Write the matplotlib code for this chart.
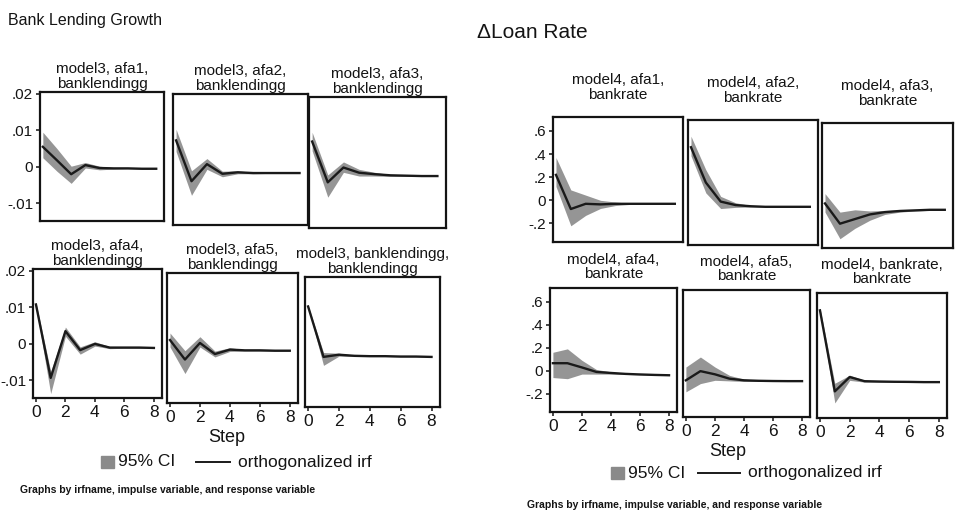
import matplotlib
matplotlib.use("Agg")
import matplotlib.pyplot as plt
from matplotlib.patches import Rectangle
from matplotlib.lines import Line2D

plt.rcParams['font.family'] = ['Liberation Sans', 'DejaVu Sans']

W, H = 973, 522
steps = list(range(9))

# --- model3: response of bank lending growth ---
bl_titles = ["model3, afa1,\nbanklendingg", "model3, afa2,\nbanklendingg",
             "model3, afa3,\nbanklendingg", "model3, afa4,\nbanklendingg",
             "model3, afa5,\nbanklendingg", "model3, banklendingg,\nbanklendingg"]
bl_afa1 = [0.0055, 0.0018, -0.0020, 0.0005, -0.0003, -0.0004, -0.0004, -0.0005, -0.0005]
bl_afa1_lo = [0.0025, -0.0012, -0.0045, -0.0003, -0.0008, -0.0006, -0.0005, -0.0006, -0.0006]
bl_afa1_hi = [0.0095, 0.0050, 0.0002, 0.0012, 0.0002, -0.0002, -0.0003, -0.0004, -0.0004]
bl_afa2 = [0.0080, -0.0030, 0.0016, -0.0010, -0.0006, -0.0008, -0.0008, -0.0008, -0.0008]
bl_afa2_lo = [0.0050, -0.0068, 0.0002, -0.0018, -0.0010, -0.0010, -0.0009, -0.0009, -0.0009]
bl_afa2_hi = [0.0110, -0.0002, 0.0031, -0.0003, -0.0002, -0.0006, -0.0007, -0.0007, -0.0007]
bl_afa3 = [0.0085, -0.0025, 0.0015, 0.0001, -0.0003, -0.0006, -0.0007, -0.0008, -0.0008]
bl_afa3_lo = [0.0060, -0.0065, 0.0002, -0.0008, -0.0008, -0.0009, -0.0009, -0.0009, -0.0009]
bl_afa3_hi = [0.0110, -0.0005, 0.0030, 0.0010, 0.0002, -0.0004, -0.0006, -0.0007, -0.0007]
bl_afa4 = [0.0108, -0.0093, 0.0035, -0.0017, 0.0000, -0.0010, -0.0010, -0.0010, -0.0011]
bl_afa4_lo = [0.0103, -0.0136, 0.0021, -0.0028, -0.0006, -0.0013, -0.0012, -0.0012, -0.0012]
bl_afa4_hi = [0.0114, -0.0075, 0.0046, -0.0008, 0.0006, -0.0007, -0.0008, -0.0009, -0.0010]
bl_afa5 = [0.0023, -0.0030, 0.0015, -0.0015, -0.0003, -0.0005, -0.0005, -0.0006, -0.0006]
bl_afa5_lo = [0.0004, -0.0068, 0.0004, -0.0023, -0.0008, -0.0007, -0.0007, -0.0007, -0.0007]
bl_afa5_hi = [0.0042, -0.0006, 0.0032, -0.0007, 0.0002, -0.0003, -0.0004, -0.0005, -0.0005]
bl_own = [0.0125, -0.0012, -0.0006, -0.0009, -0.0010, -0.0010, -0.0011, -0.0011, -0.0012]
bl_own_lo = [0.0122, -0.0035, -0.0010, -0.0011, -0.0011, -0.0011, -0.0012, -0.0012, -0.0013]
bl_own_hi = [0.0128, 0.0000, -0.0002, -0.0007, -0.0009, -0.0009, -0.0010, -0.0010, -0.0011]

# --- model4: response of the loan rate ---
br_titles = ["model4, afa1,\nbankrate", "model4, afa2,\nbankrate",
             "model4, afa3,\nbankrate", "model4, afa4,\nbankrate",
             "model4, afa5,\nbankrate", "model4, bankrate,\nbankrate"]
br_afa1 = [0.22, -0.075, -0.030, -0.035, -0.030, -0.030, -0.030, -0.030, -0.030]
br_afa1_lo = [0.12, -0.22, -0.13, -0.07, -0.045, -0.035, -0.033, -0.032, -0.032]
br_afa1_hi = [0.37, 0.09, 0.045, 0.0, -0.015, -0.025, -0.027, -0.028, -0.028]
br_afa2 = [0.485, 0.18, 0.015, -0.015, -0.025, -0.030, -0.030, -0.030, -0.030]
br_afa2_lo = [0.41, 0.09, -0.045, -0.035, -0.032, -0.033, -0.032, -0.032, -0.032]
br_afa2_hi = [0.58, 0.29, 0.06, 0.005, -0.018, -0.027, -0.028, -0.028, -0.028]
br_afa3 = [0.025, -0.15, -0.11, -0.07, -0.05, -0.04, -0.035, -0.03, -0.03]
br_afa3_lo = [-0.05, -0.28, -0.19, -0.12, -0.07, -0.05, -0.04, -0.035, -0.033]
br_afa3_hi = [0.11, -0.05, -0.03, -0.04, -0.035, -0.032, -0.03, -0.027, -0.027]
br_afa4 = [0.065, 0.065, 0.028, -0.011, -0.020, -0.028, -0.033, -0.037, -0.040]
br_afa4_lo = [-0.06, -0.07, -0.03, -0.03, -0.03, -0.033, -0.036, -0.039, -0.042]
br_afa4_hi = [0.16, 0.19, 0.09, 0.01, -0.010, -0.023, -0.030, -0.035, -0.038]
br_afa5 = [-0.048, 0.03, 0.003, -0.034, -0.048, -0.052, -0.054, -0.055, -0.055]
br_afa5_lo = [-0.146, -0.076, -0.048, -0.053, -0.058, -0.058, -0.058, -0.058, -0.058]
br_afa5_hi = [0.065, 0.15, 0.065, -0.006, -0.038, -0.046, -0.050, -0.052, -0.052]
br_own = [0.57, -0.13, -0.006, -0.042, -0.045, -0.047, -0.048, -0.050, -0.050]
br_own_lo = [0.55, -0.23, -0.035, -0.050, -0.050, -0.050, -0.051, -0.052, -0.052]
br_own_hi = [0.59, -0.06, 0.010, -0.034, -0.040, -0.044, -0.046, -0.048, -0.048]

bl_series = [(bl_afa1, bl_afa1_lo, bl_afa1_hi), (bl_afa2, bl_afa2_lo, bl_afa2_hi),
             (bl_afa3, bl_afa3_lo, bl_afa3_hi), (bl_afa4, bl_afa4_lo, bl_afa4_hi),
             (bl_afa5, bl_afa5_lo, bl_afa5_hi), (bl_own, bl_own_lo, bl_own_hi)]
br_series = [(br_afa1, br_afa1_lo, br_afa1_hi), (br_afa2, br_afa2_lo, br_afa2_hi),
             (br_afa3, br_afa3_lo, br_afa3_hi), (br_afa4, br_afa4_lo, br_afa4_hi),
             (br_afa5, br_afa5_lo, br_afa5_hi), (br_own, br_own_lo, br_own_hi)]

bl_yticks = [-0.01, 0, 0.01, 0.02]
bl_ylabels = ["-.01", "0", ".01", ".02"]
br_yticks = [-0.2, 0, 0.2, 0.4, 0.6]
br_ylabels = ["-.2", "0", ".2", ".4", ".6"]
xticks = [0, 2, 4, 6, 8]

# panel boxes in pixels: left, top, right, bottom
bl_boxes = [(40, 92, 164, 221), (173, 94, 308, 225), (309, 97, 446, 228),
            (33, 269, 162, 398), (167, 273, 298, 403), (305, 277, 440, 407)]
br_boxes = [(553, 117, 683, 242), (688, 120, 818, 245), (822, 123, 953, 248),
            (550, 288, 677, 412), (683, 290, 810, 417), (817, 293, 947, 418)]

BAND = '#8a8a8a'
LINE = '#1a1a1a'
INK = '#141414'

fig = plt.figure(figsize=(W / 100, H / 100), dpi=100)


def px_axes(box):
    l, t, r, b = box
    return fig.add_axes([l / W, 1 - b / H, (r - l) / W, (b - t) / H])


def draw_panel(box, title, data, ylim, yticks, ylabels, show_y, show_x, pad):
    ax = px_axes(box)
    irf, lo, hi = data
    ax.fill_between(steps, lo, hi, color=BAND, alpha=0.9, lw=0)
    ax.plot(steps, irf, color=LINE, lw=1.7)
    ax.set_xlim(-0.2, 8.55)
    ax.set_ylim(*ylim)
    for s in ax.spines.values():
        s.set_linewidth(1.6)
        s.set_color(INK)
    ax.set_title(title, fontsize=11, pad=pad, linespacing=1.05, color=INK)
    ax.tick_params(length=3, width=1.1, colors=INK, labelsize=11, pad=2)
    ax.set_yticks(yticks)
    ax.set_xticks(xticks)
    if show_y:
        ax.set_yticklabels(ylabels)
    else:
        ax.tick_params(axis='y', left=False, labelleft=False)
    if show_x:
        ax.set_xticklabels([str(v) for v in xticks], fontsize=12.5)
    else:
        ax.tick_params(axis='x', bottom=False, labelbottom=False)
    return ax


for i in range(6):
    draw_panel(bl_boxes[i], bl_titles[i], bl_series[i], (-0.0148, 0.0205),
               bl_yticks, bl_ylabels, i % 3 == 0, i >= 3, 3)
    draw_panel(br_boxes[i], br_titles[i], br_series[i], (-0.36, 0.72),
               br_yticks, br_ylabels, i % 3 == 0, i >= 3, 13 if i < 3 else 7)

# headings
fig.text(8 / W, 1 - 20 / H, "Bank Lending Growth", fontsize=11.5, va='center', ha='left', color=INK)
fig.text(477 / W, 1 - 33 / H, "\u0394Loan Rate", fontsize=15, va='center', ha='left', color=INK)

# x axis titles
fig.text(227 / W, 1 - 437 / H, "Step", fontsize=13, ha='center', va='center', color=INK)
fig.text(728 / W, 1 - 452 / H, "Step", fontsize=13, ha='center', va='center', color=INK)


def legend_row(x0, y0, line_x0, line_x1, text_x):
    fig.patches.append(Rectangle((x0 / W, 1 - (y0 + 6) / H), 13 / W, 12 / H,
                                 transform=fig.transFigure, color=BAND))
    fig.text((x0 + 17) / W, 1 - y0 / H, "95% CI", fontsize=12.5, va='center', color=INK)
    fig.lines.append(Line2D([line_x0 / W, line_x1 / W], [1 - y0 / H, 1 - y0 / H],
                            transform=fig.transFigure, color=LINE, lw=1.4))
    fig.text(text_x / W, 1 - y0 / H, "orthogonalized irf", fontsize=12.5, va='center', color=INK)


legend_row(101, 462, 196, 230, 238)
legend_row(611, 473, 698, 740, 748)

fig.text(20 / W, 1 - 490 / H, "Graphs by irfname, impulse variable, and response variable",
         fontsize=7.5, fontweight='bold', va='center', color=INK)
fig.text(527 / W, 1 - 505 / H, "Graphs by irfname, impulse variable, and response variable",
         fontsize=7.5, fontweight='bold', va='center', color=INK)

fig.savefig("out.png", dpi=100, facecolor='white')
